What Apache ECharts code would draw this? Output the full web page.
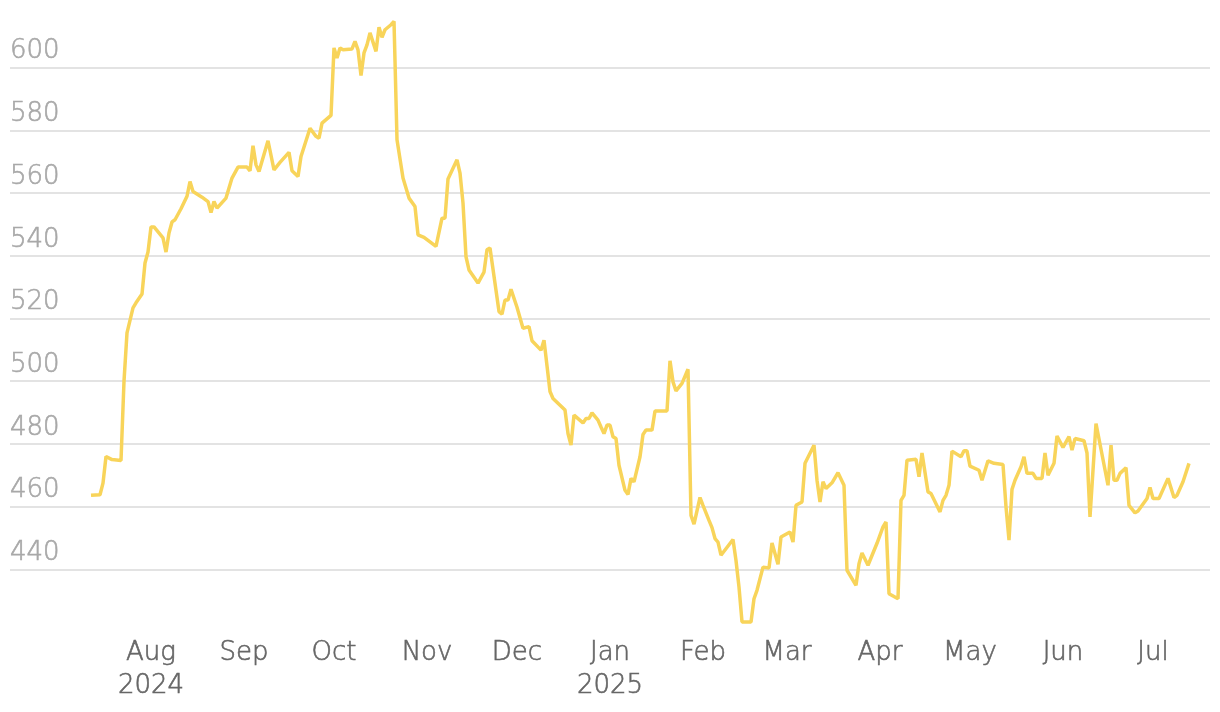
<!DOCTYPE html>
<html><head><meta charset="utf-8">
<script src="https://cdn.jsdelivr.net/npm/echarts@6/dist/echarts.min.js"></script>
<style>html,body{margin:0;padding:0;background:#fff}#c{width:1220px;height:712px}</style>
</head><body><div id="c"></div>
<script>
const dates = [
 '2024-07-12','2024-07-15','2024-07-16','2024-07-17','2024-07-19','2024-07-22','2024-07-23','2024-07-24','2024-07-26','2024-07-27','2024-07-29','2024-07-30','2024-07-31',
 '2024-08-01','2024-08-02','2024-08-05','2024-08-06','2024-08-07','2024-08-08','2024-08-09','2024-08-11','2024-08-13','2024-08-14','2024-08-15','2024-08-18','2024-08-20','2024-08-21','2024-08-22','2024-08-23','2024-08-26','2024-08-28','2024-08-30',
 '2024-09-02','2024-09-03','2024-09-04','2024-09-05','2024-09-06','2024-09-09','2024-09-11','2024-09-13','2024-09-16','2024-09-17','2024-09-19','2024-09-20','2024-09-23','2024-09-25','2024-09-26','2024-09-27','2024-09-30',
 '2024-10-01','2024-10-02','2024-10-03','2024-10-04','2024-10-07','2024-10-08','2024-10-09','2024-10-10','2024-10-11','2024-10-12','2024-10-13','2024-10-15','2024-10-16','2024-10-17','2024-10-18','2024-10-20','2024-10-21','2024-10-22','2024-10-24','2024-10-26','2024-10-28','2024-10-29','2024-10-31',
 '2024-11-04','2024-11-06','2024-11-07','2024-11-08','2024-11-11','2024-11-12','2024-11-13','2024-11-14','2024-11-15','2024-11-18','2024-11-20','2024-11-21','2024-11-22','2024-11-25','2024-11-26','2024-11-27','2024-11-28','2024-11-29',
 '2024-12-01','2024-12-03','2024-12-05','2024-12-06','2024-12-09','2024-12-10','2024-12-12','2024-12-13','2024-12-17','2024-12-18','2024-12-19','2024-12-20','2024-12-23','2024-12-24','2024-12-25','2024-12-26','2024-12-28','2024-12-29','2024-12-30','2024-12-31',
 '2025-01-01','2025-01-02','2025-01-03','2025-01-04','2025-01-06','2025-01-07','2025-01-08','2025-01-09','2025-01-11','2025-01-12','2025-01-13','2025-01-15','2025-01-16','2025-01-18','2025-01-20','2025-01-21','2025-01-22','2025-01-23','2025-01-25','2025-01-27','2025-01-28','2025-01-29','2025-01-31',
 '2025-02-01','2025-02-03','2025-02-04','2025-02-05','2025-02-06','2025-02-07','2025-02-11','2025-02-12','2025-02-13','2025-02-14','2025-02-17','2025-02-18','2025-02-19','2025-02-21','2025-02-23','2025-02-24','2025-02-26','2025-02-27',
 '2025-03-02','2025-03-03','2025-03-04','2025-03-06','2025-03-07','2025-03-10','2025-03-11','2025-03-12','2025-03-13','2025-03-14','2025-03-16','2025-03-18','2025-03-20','2025-03-21','2025-03-24','2025-03-25','2025-03-26','2025-03-28','2025-03-31',
 '2025-04-02','2025-04-03','2025-04-04','2025-04-07','2025-04-08','2025-04-09','2025-04-10','2025-04-13','2025-04-14','2025-04-15','2025-04-17','2025-04-18','2025-04-21','2025-04-22','2025-04-23','2025-04-24','2025-04-25','2025-04-28','2025-04-29','2025-04-30',
 '2025-05-01','2025-05-04','2025-05-05','2025-05-07','2025-05-09','2025-05-12','2025-05-13','2025-05-14','2025-05-15','2025-05-16','2025-05-18','2025-05-19','2025-05-20','2025-05-22','2025-05-23','2025-05-25','2025-05-26','2025-05-27','2025-05-29','2025-05-30',
 '2025-06-01','2025-06-03','2025-06-04','2025-06-05','2025-06-08','2025-06-09','2025-06-10','2025-06-12','2025-06-16','2025-06-17','2025-06-18','2025-06-19','2025-06-20','2025-06-22','2025-06-23','2025-06-25','2025-06-26','2025-06-29','2025-06-30',
 '2025-07-01','2025-07-03','2025-07-06','2025-07-08','2025-07-09','2025-07-11','2025-07-13'
];
const values = [
 463.6,463.8,467.5,476.0,475.0,474.7,500.0,515.4,523.4,525.0,527.8,537.7,541.2,
 549.2,549.2,545.7,541.2,547.3,550.8,551.5,555.0,559.0,563.7,560.5,558.7,557.3,553.8,557.3,555.2,558.4,564.8,568.3,
 568.3,567.1,575.1,569.0,566.9,576.7,567.4,569.8,573.0,567.1,565.3,571.7,580.7,578.1,577.5,582.3,584.8,
 606.3,603.1,606.3,605.7,606.0,608.4,605.7,597.5,604.7,607.3,611.1,605.2,612.9,609.7,612.1,613.7,614.8,577.0,564.8,558.4,555.7,546.7,545.9,
 543.0,552.0,552.0,564.5,570.6,566.4,556.8,539.7,535.5,531.3,534.8,541.9,542.5,522.2,521.4,525.9,525.9,529.3,
 523.6,516.9,517.4,512.9,509.9,513.1,496.7,494.5,490.8,483.3,479.6,489.2,486.7,488.1,488.1,489.9,487.6,485.4,483.3,486.0,
 486.0,482.3,481.7,473.2,465.2,463.9,469.0,467.9,475.9,483.0,484.4,484.4,490.5,490.5,490.5,506.5,499.8,496.9,499.3,503.8,457.2,454.4,462.9,
 460.4,455.6,453.3,449.8,448.7,444.5,449.5,442.8,434.3,423.2,423.2,430.6,433.3,440.7,440.4,448.4,441.6,450.3,
 451.9,448.7,460.4,461.5,473.8,479.6,468.4,461.5,467.9,465.8,467.6,470.8,466.8,439.7,434.9,441.8,445.2,441.3,448.3,
 453.5,455.1,432.2,430.6,462.0,463.6,474.8,475.1,469.5,477.1,464.7,464.2,458.3,462.0,463.6,466.8,477.7,475.9,477.8,477.8,
 472.9,471.6,468.4,474.6,473.8,473.4,459.9,449.3,465.5,468.4,472.7,475.9,470.6,470.6,469.0,469.0,477.1,470.0,473.8,482.5,
 478.9,482.3,478.0,481.7,481.0,477.1,456.7,486.5,466.8,479.6,468.4,468.4,470.6,472.4,460.4,458.0,458.6,462.6,466.1,
 462.6,462.6,469.0,462.9,463.6,467.9,473.8
];
const monthTicks = ['2024-08-01','2024-09-01','2024-10-01','2024-11-01','2024-12-01','2025-01-01','2025-02-01','2025-03-01','2025-04-01','2025-05-01','2025-06-01','2025-07-01'];
const monthLabels = ['Aug\n2024','Sep','Oct','Nov','Dec','Jan\n2025','Feb','Mar','Apr','May','Jun','Jul'];
const yTickLabels = [440,460,480,500,520,540,560,580,600];

function ts(s){const p=s.split('-');return Date.UTC(+p[0],+p[1]-1,+p[2]);}
const tickTs = monthTicks.map(ts);
const seriesData = dates.map((d,i)=>[ts(d), values[i]]);

const chart = echarts.init(document.getElementById('c'), null, {renderer:'canvas'});
chart.setOption({
  animation:false,
  backgroundColor:'#ffffff',
  grid:{left:10,right:10,top:5,bottom:80,containLabel:false},
  xAxis:{
    type:'value',
    min:ts('2024-06-15'), max:ts('2025-07-20'),
    axisLine:{show:false}, axisTick:{show:false}, splitLine:{show:false},
    axisLabel:{
      customValues:tickTs,
      color:'#666666', fontFamily:'DejaVu Sans', fontWeight:200, fontSize:26, lineHeight:33, margin:5,
      textBorderColor:'#666666', textBorderWidth:0.6,
      showMinLabel:true, showMaxLabel:true,
      formatter:function(v){const i=tickTs.indexOf(v); return i>=0?monthLabels[i]:'';}
    }
  },
  yAxis:{
    type:'value', min:420, max:620, interval:20,
    axisLine:{show:false}, axisTick:{show:false},
    splitLine:{show:true, showMinLine:false, showMaxLine:false, lineStyle:{color:'#e3e3e3', width:2}},
    axisLabel:{
      inside:true, margin:0, showMinLabel:false, showMaxLabel:false,
      verticalAlign:'bottom', padding:[0,0,3,0],
      color:'#a8a8a8', fontFamily:'DejaVu Sans', fontWeight:200, fontSize:26,
      textBorderColor:'#a8a8a8', textBorderWidth:0.6,
      formatter:function(v){return yTickLabels.indexOf(v)>=0?String(v):'';}
    }
  },
  series:[{
    type:'line', data:seriesData, showSymbol:false, symbol:'none',
    lineStyle:{color:'#F8D45A', width:3.5}, z:5
  }]
});
</script></body></html>
